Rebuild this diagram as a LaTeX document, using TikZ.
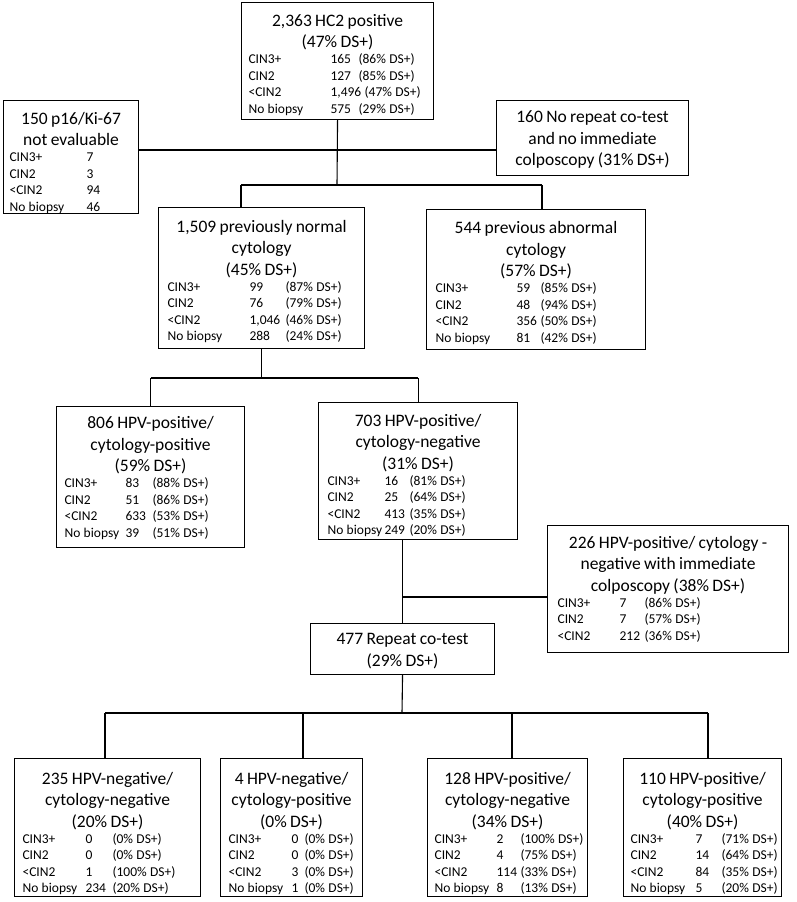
\documentclass[tikz,border=0pt]{standalone}
\usepackage{fontspec}
\setmainfont{Carlito}
\usepackage{array}
\newlength\colA \newlength\colB
\newcommand{\ttl}[1]{{\fontsize{17.5}{21.5}\selectfont #1\rule[-3.5pt]{0pt}{1pt}\par}}
\newcommand{\rws}[4]{\setlength\colA{#2pt}\setlength\colB{#3pt}%
  \makebox[\linewidth][l]{\hspace*{#1pt}\fontsize{13.5}{16.5}\selectfont
  \begin{tabular}{@{}p{\colA}@{}p{\colB}@{}l@{}}#4\end{tabular}}}
\newcommand{\wide}[1]{\multicolumn{2}{@{}l@{}}{#1}}
\tikzset{
  box/.style={draw, line width=1.1pt, rectangle, inner sep=0pt, anchor=north west},
  txt/.style={inner sep=0pt, anchor=north, align=center},
  conn/.style={line width=1.1pt}
}
% name, x, y, width, height, top padding, content
\newcommand{\bx}[7]{%
  \node[box, minimum width=#4pt, minimum height=#5pt] (#1) at (#2,#3) {};
  \node[txt, text width=#4pt] (#1-t) at ([yshift=-#6pt]#1.north) {#7};}
\begin{document}
\begin{tikzpicture}[x=1pt,y=-1pt]
\useasboundingbox (0,0) rectangle (797,902);
\fill[white] (0,0) rectangle (797,902);

\bx{top}{241}{2}{192}{117}{12}{\ttl{2,363 HC2 positive\\(47\% DS+)}
\rws{7}{82}{28}{CIN3+ & 165 & (86\% DS+)\\ CIN2 & 127 & (85\% DS+)\\ <CIN2 & \wide{1,496 (47\% DS+)}\\ No biopsy & 575 & (29\% DS+)}}

\bx{p16}{3}{100}{135}{113}{12}{\ttl{150 p16/Ki-67\\not evaluable}
\rws{6}{77}{20}{CIN3+ & 7 & \\ CIN2 & 3 & \\ <CIN2 & 94 & \\ No biopsy & 46 & }}

\bx{nr}{496}{100}{192}{75}{10.5}{\ttl{160 No repeat co-test\\and no immediate\\colposcopy (31\% DS+)}}

\bx{pn}{158}{207}{206}{141}{13}{\ttl{1,509 previously normal\\cytology\\(45\% DS+)}
\rws{9}{82}{36}{CIN3+ & 99 & (87\% DS+)\\ CIN2 & 76 & (79\% DS+)\\ <CIN2 & 1,046 & (46\% DS+)\\ No biopsy & 288 & (24\% DS+)}}

\bx{pa}{426}{209}{219}{140}{12.5}{\ttl{544 previous abnormal\\cytology\\(57\% DS+)}
\rws{9}{81}{24}{CIN3+ & 59 & (85\% DS+)\\ CIN2 & 48 & (94\% DS+)\\ <CIN2 & 356 & (50\% DS+)\\ No biopsy & 81 & (42\% DS+)}}

\bx{pp}{56}{406}{188}{141}{10.5}{\ttl{806 HPV-positive/\\cytology-positive\\(59\% DS+)}
\rws{8}{61}{27}{CIN3+ & 83 & (88\% DS+)\\ CIN2 & 51 & (86\% DS+)\\ <CIN2 & 633 & (53\% DS+)\\ No biopsy & 39 & (51\% DS+)}}

\bx{pneg}{318}{402}{199}{137}{12}{\ttl{703 HPV-positive/\\cytology-negative\\(31\% DS+)}
\rws{9}{57}{25}{CIN3+ & 16 & (81\% DS+)\\ CIN2 & 25 & (64\% DS+)\\ <CIN2 & 413 & (35\% DS+)\\ No biopsy & 249 & (20\% DS+)}}

\bx{imm}{547}{525}{241}{127}{11}{\ttl{226 HPV-positive/ cytology -\\negative with immediate\\colposcopy (38\% DS+)}
\rws{10}{62}{25}{CIN3+ & 7 & (86\% DS+)\\ CIN2 & 7 & (57\% DS+)\\ <CIN2 & 212 & (36\% DS+)}}

\bx{rep}{310}{623}{184}{51}{10.5}{\ttl{477 Repeat co-test\\(29\% DS+)}}

\bx{b1}{14}{758}{186}{138}{14}{\ttl{235 HPV-negative/\\cytology-negative\\(20\% DS+)}
\rws{8}{63}{27}{CIN3+ & 0 & (0\% DS+)\\ CIN2 & 0 & (0\% DS+)\\ <CIN2 & 1 & (100\% DS+)\\ No biopsy & 234 & (20\% DS+)}}

\bx{b2}{220}{758}{142}{138}{14}{\ttl{4 HPV-negative/\\cytology-positive\\(0\% DS+)}
\rws{8}{63}{13}{CIN3+ & 0 & (0\% DS+)\\ CIN2 & 0 & (0\% DS+)\\ <CIN2 & 3 & (0\% DS+)\\ No biopsy & 1 & (0\% DS+)}}

\bx{b3}{427}{758}{160}{138}{14}{\ttl{128 HPV-positive/\\cytology-negative\\(34\% DS+)}
\rws{7}{62}{24}{CIN3+ & 2 & (100\% DS+)\\ CIN2 & 4 & (75\% DS+)\\ <CIN2 & 114 & (33\% DS+)\\ No biopsy & 8 & (13\% DS+)}}

\bx{b4}{623}{758}{158}{138}{14}{\ttl{110 HPV-positive/\\cytology-positive\\(40\% DS+)}
\rws{7}{65}{26}{CIN3+ & 7 & (71\% DS+)\\ CIN2 & 14 & (64\% DS+)\\ <CIN2 & 84 & (35\% DS+)\\ No biopsy & 5 & (20\% DS+)}}

% connectors
\coordinate (ja) at (337,185);
\coordinate (jb) at (337,150);
\coordinate (la) at (241,185);
\coordinate (ra) at (542,185);
\draw[conn] (top.south) -- (ja);
\draw[conn] (p16.east |- jb) -- (nr.west |- jb);
\draw[conn] (la) -- (ra);
\draw[conn] (la) -- (la |- pn.north);
\draw[conn] (ra) -- (ra |- pa.north);

\coordinate (jc) at (261,378);
\draw[conn] (pn.south) -- (pn.south |- jc);
\draw[conn] (pp.north |- jc) -- (pneg.north |- jc);
\draw[conn] (pp.north |- jc) -- (pp.north);
\draw[conn] (pneg.north |- jc) -- (pneg.north);

\coordinate (jd) at (402,597);
\draw[conn] (pneg.south -| rep.north) -- (rep.north);
\draw[conn] (jd) -- (imm.west |- jd);

\coordinate (je) at (402,713);
\coordinate (k1) at (105,713);
\coordinate (k2) at (303,713);
\coordinate (k3) at (512,713);
\coordinate (k4) at (708,713);
\draw[conn] (rep.south) -- (je);
\draw[conn] (k1) -- (k4);
\draw[conn] (k1) -- (k1 |- b1.north);
\draw[conn] (k2) -- (k2 |- b2.north);
\draw[conn] (k3) -- (k3 |- b3.north);
\draw[conn] (k4) -- (k4 |- b4.north);
\end{tikzpicture}
\end{document}
